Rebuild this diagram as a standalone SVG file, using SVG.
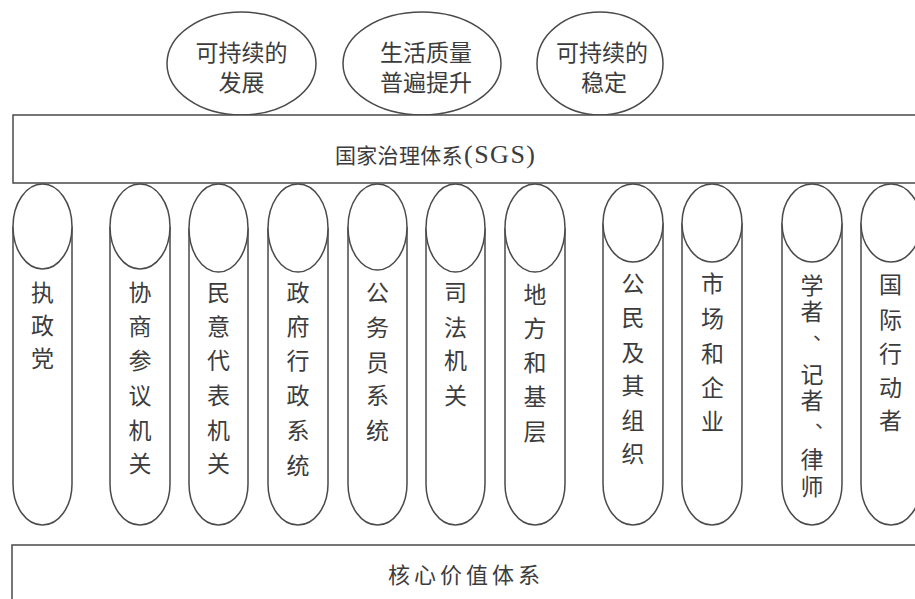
<svg xmlns="http://www.w3.org/2000/svg" width="915" height="599" viewBox="0 0 915 599">
<style>
.ln{fill:none;stroke:#4a4a4a;stroke-width:1.5}
.bx{fill:#fff;stroke:#4a4a4a;stroke-width:1.5}
text{font-family:"Liberation Serif","Noto Sans CJK SC",serif;fill:#3c3c3c}
.t23{font-size:23px;text-anchor:middle}
.col{font-size:23px;text-anchor:middle}
.dun{font-size:20px}
</style>
<rect width="915" height="599" fill="#fff"/>
<g id="goal-1">
<ellipse class="bx" cx="241.5" cy="63.5" rx="74.5" ry="51.5"/>
<text class="t23"><tspan x="241.5" y="61">可持续的</tspan><tspan x="241.5" y="91">发展</tspan></text>
</g>
<g id="goal-2">
<ellipse class="bx" cx="422" cy="63.5" rx="79" ry="51.5"/>
<text class="t23"><tspan x="426" y="61">生活质量</tspan><tspan x="426" y="91">普遍提升</tspan></text>
</g>
<g id="goal-3">
<ellipse class="bx" cx="600" cy="63.5" rx="63" ry="51.5"/>
<text class="t23"><tspan x="602" y="61">可持续的</tspan><tspan x="604" y="91">稳定</tspan></text>
</g>
<g id="sgs">
<rect class="bx" x="13" y="115" width="930" height="68"/>
<text x="335" y="163" style="font-size:21px;letter-spacing:0.3px">国家治理体系<tspan x="464" style="font-size:26px;letter-spacing:1.5px">(SGS)</tspan></text>
</g>
<g id="col-1">
<path class="ln" d="M13,226.5 V484 A29.5,41 0 0 0 72,484 V226.5"/>
<ellipse class="bx" cx="42.5" cy="226.5" rx="29.5" ry="42.5"/>
<text class="col"><tspan x="42.5" y="300.7">执</tspan><tspan x="42.5" y="333.7">政</tspan><tspan x="42.5" y="366.7">党</tspan></text>
</g>
<g id="col-2">
<path class="ln" d="M110,226.5 V484 A30,41 0 0 0 170,484 V226.5"/>
<ellipse class="bx" cx="140" cy="226.5" rx="30" ry="42.5"/>
<text class="col"><tspan x="140" y="300.7">协</tspan><tspan x="140" y="334.7">商</tspan><tspan x="140" y="368.7">参</tspan><tspan x="140" y="403.7">议</tspan><tspan x="140" y="438.7">机</tspan><tspan x="140" y="471.7">关</tspan></text>
</g>
<g id="col-3">
<path class="ln" d="M189,228 V484 A29.5,41 0 0 0 248,484 V228"/>
<ellipse class="bx" cx="218.5" cy="228" rx="29.5" ry="44"/>
<text class="col"><tspan x="218.5" y="300.7">民</tspan><tspan x="218.5" y="334.7">意</tspan><tspan x="218.5" y="368.7">代</tspan><tspan x="218.5" y="403.7">表</tspan><tspan x="218.5" y="438.7">机</tspan><tspan x="218.5" y="471.7">关</tspan></text>
</g>
<g id="col-4">
<path class="ln" d="M268,228 V484 A30,41 0 0 0 328,484 V228"/>
<ellipse class="bx" cx="298" cy="228" rx="30" ry="44"/>
<text class="col"><tspan x="298" y="300.7">政</tspan><tspan x="298" y="334.7">府</tspan><tspan x="298" y="368.7">行</tspan><tspan x="298" y="403.7">政</tspan><tspan x="298" y="438.7">系</tspan><tspan x="298" y="473.7">统</tspan></text>
</g>
<g id="col-5">
<path class="ln" d="M348,227 V484 A29.5,41 0 0 0 407,484 V227"/>
<ellipse class="bx" cx="377.5" cy="227" rx="29.5" ry="43"/>
<text class="col"><tspan x="377.5" y="300.7">公</tspan><tspan x="377.5" y="335.7">务</tspan><tspan x="377.5" y="370.7">员</tspan><tspan x="377.5" y="403.7">系</tspan><tspan x="377.5" y="438.7">统</tspan></text>
</g>
<g id="col-6">
<path class="ln" d="M426,228 V484 A29.5,41 0 0 0 485,484 V228"/>
<ellipse class="bx" cx="455.5" cy="228" rx="29.5" ry="44"/>
<text class="col"><tspan x="455.5" y="300.7">司</tspan><tspan x="455.5" y="335.7">法</tspan><tspan x="455.5" y="368.7">机</tspan><tspan x="455.5" y="403.7">关</tspan></text>
</g>
<g id="col-7">
<path class="ln" d="M505,228 V484 A30,41 0 0 0 565,484 V228"/>
<ellipse class="bx" cx="535" cy="228" rx="30" ry="44"/>
<text class="col"><tspan x="535" y="302.7">地</tspan><tspan x="535" y="336.7">方</tspan><tspan x="535" y="370.7">和</tspan><tspan x="535" y="404.7">基</tspan><tspan x="535" y="439.7">层</tspan></text>
</g>
<g id="col-8">
<path class="ln" d="M603,223 V484 A30,41 0 0 0 663,484 V223"/>
<ellipse class="bx" cx="633" cy="223" rx="30" ry="39"/>
<text class="col"><tspan x="633" y="291.7">公</tspan><tspan x="633" y="325.7">民</tspan><tspan x="633" y="360.7">及</tspan><tspan x="633" y="393.7">其</tspan><tspan x="633" y="428.7">组</tspan><tspan x="633" y="461.7">织</tspan></text>
</g>
<g id="col-9">
<path class="ln" d="M682,223 V484 A30,41 0 0 0 742,484 V223"/>
<ellipse class="bx" cx="712" cy="223" rx="30" ry="39"/>
<text class="col"><tspan x="712.5" y="291.7">市</tspan><tspan x="712.5" y="326.7">场</tspan><tspan x="712.5" y="361.7">和</tspan><tspan x="712.5" y="395.7">企</tspan><tspan x="712.5" y="429.7">业</tspan></text>
</g>
<g id="col-10">
<path class="ln" d="M782,223 V484 A30,41 0 0 0 842,484 V223"/>
<ellipse class="bx" cx="812" cy="223" rx="30" ry="39"/>
<text class="col"><tspan x="812" y="293.7">学</tspan><tspan x="812" y="319.7">者</tspan><tspan x="812" y="382.7">记</tspan><tspan x="812" y="408.7">者</tspan><tspan x="812" y="467.7">律</tspan><tspan x="812" y="494.7">师</tspan></text>
<text class="dun"><tspan x="813" y="340">、</tspan><tspan x="815" y="428">、</tspan></text>
</g>
<g id="col-11">
<path class="ln" d="M861,223 V484 A30,41 0 0 0 921,484 V223"/>
<ellipse class="bx" cx="891" cy="223" rx="30" ry="39"/>
<text class="col"><tspan x="890.5" y="292.7">国</tspan><tspan x="890.5" y="327.7">际</tspan><tspan x="890.5" y="361.7">行</tspan><tspan x="890.5" y="395.7">动</tspan><tspan x="890.5" y="428.7">者</tspan></text>
</g>
<g id="core-values">
<rect class="bx" x="12" y="545" width="930" height="80"/>
<text x="466" y="583" style="font-size:22px;letter-spacing:4px;text-anchor:middle">核心价值体系</text>
</g>
</svg>
